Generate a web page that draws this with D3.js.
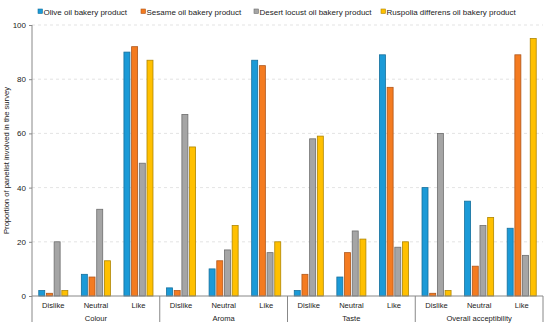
<!DOCTYPE html>
<html>
<head>
<meta charset="utf-8">
<script src="https://cdn.jsdelivr.net/npm/d3@7"></script>
<style>
  body { margin: 0; background: #fff; }
  text { font-family: "Liberation Sans", Arial, sans-serif; fill: #222; }
</style>
</head>
<body>
<div id="chartArea"></div>
<script>
const groups = ["Colour", "Aroma", "Taste", "Overall acceptibility"];
const levels = ["Dislike", "Neutral", "Like"];
const seriesNames = [
  "Olive oil bakery product",
  "Sesame oil bakery product",
  "Desert locust oil bakery product",
  "Ruspolia differens oil bakery product"
];
// one value per category (group x level), in order
const olive = [2, 8, 90, 3, 10, 87, 2, 7, 89, 40, 35, 25];
const sesame = [1, 7, 92, 2, 13, 85, 8, 16, 77, 1, 11, 89];
const locust = [20, 32, 49, 67, 17, 16, 58, 24, 18, 60, 26, 15];
const ruspolia = [2, 13, 87, 55, 26, 20, 59, 21, 20, 2, 29, 95];
const yTicks = [0, 20, 40, 60, 80, 100];

const fills = ["#1b9ad7", "#f47b20", "#a5a5a5", "#ffc000"];
const strokes = ["#156f9c", "#b0561a", "#6e6e6e", "#b08600"];

const W = 550, H = 332;
const margin = { top: 25, right: 7, bottom: 36, left: 32 };
const w = W - margin.left - margin.right;
const h = H - margin.top - margin.bottom;

const svg = d3.select("#chartArea").append("svg")
  .attr("width", W).attr("height", H);
const g = svg.append("g")
  .attr("transform", "translate(" + margin.left + "," + margin.top + ")");

const cats = [];
groups.forEach(gr => levels.forEach(l => cats.push(gr + "|" + l)));
const values = [olive, sesame, locust, ruspolia];
const data = cats.map((c, i) => ({ key: c, vals: values.map(v => v[i]) }));

const x0 = d3.scaleBand().domain(cats).range([0, w]);
const x1 = d3.scaleBand().domain(d3.range(4)).range([0, x0.bandwidth()])
  .paddingInner(0.22).paddingOuter(0.88);
const y = d3.scaleLinear().domain([0, 100]).range([h, 0]);

// gridlines
g.selectAll(".grid").data(yTicks.filter(t => t > 0)).enter().append("line")
  .attr("x1", 0).attr("x2", w)
  .attr("y1", d => y(d)).attr("y2", d => y(d))
  .attr("stroke", "#dcdcdc").attr("stroke-dasharray", "3,3").attr("stroke-width", 0.8);

// y axis
const yAxis = d3.axisLeft(y).tickValues(yTicks).tickSize(3).tickPadding(3);
const ya = g.append("g").call(yAxis);
ya.select(".domain").remove();
ya.selectAll("line").attr("stroke", "#888");
ya.selectAll("text").style("font-size", "8px").attr("fill", "#222");
g.append("line").attr("x1", 0).attr("x2", 0).attr("y1", 0).attr("y2", h + 26)
  .attr("stroke", "#888");

// bars
const cat = g.selectAll(".cat").data(data).enter().append("g")
  .attr("transform", d => "translate(" + x0(d.key) + ",0)");
cat.selectAll("rect").data(d => d.vals).enter().append("rect")
  .attr("x", (d, i) => x1(i))
  .attr("width", x1.bandwidth())
  .attr("y", d => y(d))
  .attr("height", d => h - y(d))
  .attr("fill", (d, i) => fills[i])
  .attr("stroke", (d, i) => strokes[i])
  .attr("stroke-width", 0.8);

// x axis
g.append("line").attr("x1", 0).attr("x2", w).attr("y1", h).attr("y2", h)
  .attr("stroke", "#888");
g.selectAll(".lvl").data(cats).enter().append("text")
  .attr("x", d => x0(d) + x0.bandwidth() / 2)
  .attr("y", h + 12)
  .attr("text-anchor", "middle")
  .style("font-size", "7.6px")
  .text(d => d.split("|")[1]);
const gw = x0.step() * levels.length;
g.selectAll(".grp").data(groups).enter().append("text")
  .attr("x", (d, i) => gw * i + gw / 2)
  .attr("y", h + 25)
  .attr("text-anchor", "middle")
  .style("font-size", "7.6px")
  .text(d => d);
g.selectAll(".sep").data(d3.range(1, groups.length + 1)).enter().append("line")
  .attr("x1", d => gw * d).attr("x2", d => gw * d)
  .attr("y1", h).attr("y2", h + 26)
  .attr("stroke", "#888");

// y label
svg.append("text")
  .attr("transform", "translate(9," + (margin.top + h / 2) + ") rotate(-90)")
  .attr("text-anchor", "middle")
  .style("font-size", "7.6px")
  .text("Proportion of panelist involved in the survey");

// legend
const legX = [38, 141, 254, 381];
const leg = svg.selectAll(".leg").data(seriesNames).enter().append("g")
  .attr("transform", (d, i) => "translate(" + legX[i] + ",12)");
leg.append("rect").attr("x", 0).attr("y", -3).attr("width", 4.5).attr("height", 4.5)
  .attr("fill", (d, i) => fills[i]).attr("stroke", (d, i) => strokes[i]).attr("stroke-width", 0.6);
leg.append("text").attr("x", 5.5).attr("y", 2.5)
  .style("font-size", "8px")
  .text(d => d);
</script>
</body>
</html>
